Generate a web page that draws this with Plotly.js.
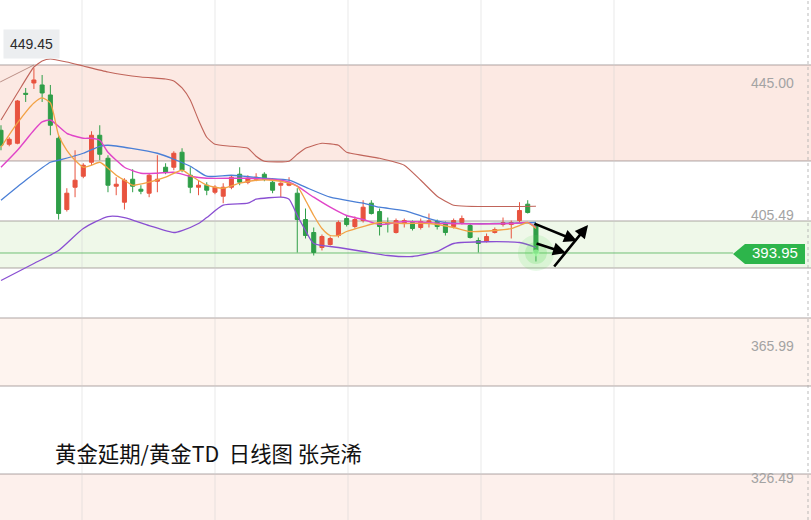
<!DOCTYPE html>
<html><head><meta charset="utf-8">
<script src="https://cdn.plot.ly/plotly-3.0.1.min.js"></script>
<style>html,body{margin:0;padding:0;background:#fff}#chart{width:811px;height:520px}</style>
</head><body><div id="chart"></div>
<script>
// ---- candle data (daily) ----
const openP  = [430.8,426.6,426.9,441.9,445.0,444.4,441.4,428.4,407.0,413.7,417.0,421.2,429.3,422.4,414.0,409.2,416.1,413.1,411.9,415.5,419.7,419.7,424.2,417.3,413.7,414.3,412.2,411.0,413.7,417.6,415.2,416.1,417.6,415.2,414.3,414.3,411.9,404.0,400.1,395.6,396.5,399.2,404.3,401.9,403.7,408.9,406.4,403.1,400.1,402.8,403.1,401.6,403.1,403.4,402.8,401.9,403.1,402.2,397.7,397.4,400.1,402.5,402.5,403.7,408.6,402.5];
const highP  = [432.3,428.7,439.9,443.5,449.45,447.4,444.4,429.0,413.4,424.8,420.9,430.5,432.3,423.3,416.7,416.4,419.1,414.3,417.9,423.3,420.9,424.5,425.4,419.7,415.8,415.2,414.3,414.9,417.3,419.7,417.3,417.9,418.2,416.4,415.2,416.7,413.4,407.3,401.6,399.5,398.9,403.7,405.2,404.9,409.8,409.8,407.3,404.6,404.3,404.3,403.7,404.3,405.8,404.0,403.4,404.3,405.2,402.8,398.6,399.8,401.6,404.6,403.7,409.2,409.8,402.5];
const lowP   = [424.8,426.0,426.6,439.3,443.2,439.3,429.3,404.0,406.4,410.7,416.4,420.3,421.8,412.2,411.3,407.0,412.2,411.6,410.7,412.2,417.6,418.8,418.2,411.9,411.3,411.3,411.6,408.9,413.1,414.3,414.6,415.5,415.5,411.9,410.7,414.0,394.1,398.3,393.2,394.7,396.2,398.6,401.9,401.3,403.1,405.5,399.2,400.1,399.8,401.6,400.7,401.0,401.6,401.0,399.2,401.3,402.5,398.3,394.1,397.1,399.8,401.9,398.3,403.1,405.8,391.4];
const closeP = [426.3,428.1,439.6,441.6,445.9,442.0,432.3,405.8,411.9,415.8,420.3,429.3,423.6,414.3,414.6,415.8,414.0,412.5,417.3,416.1,418.2,423.9,418.8,413.7,414.3,412.8,413.7,413.7,416.7,415.2,416.4,416.7,416.1,412.8,414.9,414.9,404.0,399.2,394.1,398.9,398.3,403.1,402.5,404.0,407.7,405.8,401.9,402.7,403.7,403.7,401.3,403.4,403.6,401.9,400.1,403.7,404.3,398.6,396.8,398.9,401.0,403.1,403.1,406.7,406.1,393.95];
const days = openP.map((_, i) => i);

// ---- indicator lines, read at sampled days ----
const upperDays = [0,2,4,5,6,8,10,13,17,20,21,22,23,24,25,26,28,30,31,32,35,36,37,39,41,42,46,49,51,53,55,65];
const upperBand = [433.9,442.0,449.8,451.6,452.2,451.3,450.1,448.3,446.8,446.2,445.6,443.5,439.9,433.9,428.7,426.6,426.0,425.4,423.0,421.5,421.5,423.6,425.4,426.9,426.3,424.2,422.4,420.3,415.8,411.0,408.3,408.0];
const midDays = [0,3,6,7,10,12,13,19,23,25,28,32,35,37,40,44,46,49,52,54,60,65];
const midBand = [409.8,415.8,421.2,421.8,423.9,426.0,426.3,423.9,420.0,417.0,417.3,416.4,415.8,413.7,410.7,408.9,407.7,406.7,404.3,403.1,402.8,403.1];
const lowDays = [0,4,7,10,13,15,18,21,22,24,25,27,30,31,34,35,36,37,38,41,44,47,50,53,55,63,65];
const lowBand = [385.7,390.8,394.7,401.3,404.9,404.6,402.2,400.1,400.7,402.8,404.6,408.3,408.9,410.1,410.7,410.1,405.2,400.7,396.8,395.6,394.4,393.2,392.9,394.4,396.8,397.1,395.6];
const ma5Days = [0,2,4,5,6,7,8,9,10,11,12,13,14,15,16,18,20,22,23,25,27,29,31,33,35,36,37,38,39,40,41,42,44,46,49,52,55,57,60,62,63,64,65];
const ma5 = [425.7,433.0,439.0,440.5,439.0,429.3,424.8,421.8,419.7,420.3,421.2,419.4,417.3,415.8,414.3,415.2,416.7,418.8,417.3,414.3,413.4,414.9,415.8,415.8,414.9,414.0,409.8,405.2,401.3,399.2,399.2,400.4,401.9,403.1,402.8,402.8,401.6,400.4,400.7,401.3,402.2,403.1,401.3];
const ma10Days = [0,2,4,5,6,8,10,11,12,13,14,15,17,19,21,23,25,30,34,35,36,38,40,42,44,46,49,54,62,64,65];
const ma10 = [419.7,424.8,430.8,433.3,433.9,429.9,428.4,428.4,427.8,424.2,421.8,419.7,417.9,417.9,418.2,417.0,416.4,416.4,415.8,415.2,414.0,410.7,407.7,405.2,404.0,402.5,403.4,402.8,402.8,403.1,401.6];
const trendDays = [-0.1, 4];
const trendLine = [445.3, 450.4];

// ---- levels / labels ----
const zoneLow  = [421.58, 389.44, 354.01, 300.0];
const zoneHigh = [450.41, 403.56, 374.43, 327.58];
const zoneColors = ['rgba(251,224,215,0.7)', 'rgba(228,243,218,0.6)', 'rgba(253,237,228,0.6)', 'rgba(252,232,226,0.65)'];
const levelLines = [450.41, 421.58, 403.56, 389.44, 374.43, 354.01, 327.58];
const axisLabels = [445.00, 405.49, 365.99, 326.49];
const lastPrice = 393.95;
const highLabel = '449.45';
const arrowTail = [[64.64, 402.96], [64.89, 396.95], [67.07, 389.44]];
const arrowHead = [[69.99, 397.55], [68.65, 393.95], [71.33, 402.36]];
const titleText = '黄金延期/黄金TD  日线图 张尧浠';

const RED = '#e8533f', GREEN = '#2f9e48';
const sm = {shape: 'spline', smoothing: 0.6};
const traces = [
  {type:'scatter', mode:'lines', x: trendDays, y: trendLine, line:{color:'rgba(170,120,110,0.8)', width:1}, hoverinfo:'skip'},
  {type:'scatter', mode:'lines', x: upperDays, y: upperBand, line:{color:'#c0645a', width:1.1, shape:'spline', smoothing:0.45}, hoverinfo:'skip'},
  {type:'scatter', mode:'lines', x: midDays, y: midBand, line:Object.assign({color:'#4a7fd6', width:1.3}, sm), hoverinfo:'skip'},
  {type:'scatter', mode:'lines', x: lowDays, y: lowBand, line:Object.assign({color:'#8a4fd2', width:1.3}, sm), hoverinfo:'skip'},
  {type:'scatter', mode:'lines', x: ma10Days, y: ma10, line:Object.assign({color:'#e045c8', width:1.4}, sm), hoverinfo:'skip'},
  {type:'scatter', mode:'lines', x: ma5Days, y: ma5, line:Object.assign({color:'#f2a245', width:1.3}, sm), hoverinfo:'skip'},
  {type:'candlestick', x: days, open: openP, high: highP, low: lowP, close: closeP,
   increasing:{line:{color:RED, width:1}, fillcolor:RED},
   decreasing:{line:{color:GREEN, width:1}, fillcolor:GREEN}, whiskerwidth:0, hoverinfo:'skip'},
  {type:'scatter', mode:'markers', x:[days[days.length-1], days[days.length-1], days[days.length-1]],
   y:[lastPrice, lastPrice, lastPrice],
   marker:{size:[36, 22, 7], color:['rgba(90,220,90,0.2)','rgba(90,220,90,0.32)','rgba(170,255,170,0.95)'], line:{width:0}}, hoverinfo:'skip'}
];

const shapes = [];
zoneLow.forEach((lo, k) => shapes.push({type:'rect', xref:'paper', x0:0, x1:1, yref:'y', y0:lo, y1:zoneHigh[k], fillcolor:zoneColors[k], line:{width:0}, layer:'below'}));
levelLines.forEach(v => shapes.push({type:'line', xref:'paper', x0:0, x1:1, yref:'y', y0:v, y1:v, line:{color:'rgba(120,108,108,0.6)', width:1}, layer:'below'}));
[82, 215, 348, 481, 614].forEach(px => shapes.push({type:'line', xref:'paper', x0:px/811, x1:px/811, yref:'paper', y0:0, y1:1, line:{color:'rgba(205,205,205,0.45)', width:1}, layer:'below'}));
shapes.push({type:'line', xref:'paper', x0:808/811, x1:808/811, yref:'paper', y0:0, y1:1, line:{color:'rgba(170,170,170,0.8)', width:1, dash:'dot'}, layer:'below'});
shapes.push({type:'line', xref:'paper', x0:0, x1:733/811, yref:'y', y0:lastPrice, y1:lastPrice, line:{color:'rgba(60,170,70,0.7)', width:1}, layer:'below'});
// price tag
shapes.push({type:'path', xref:'paper', yref:'paper',
  path:'M 0.9038 0.5115 L 0.9186 0.5308 L 0.9926 0.5308 L 0.9926 0.4923 L 0.9186 0.4923 Z',
  fillcolor:'#2db54b', line:{width:0}});

const annotations = [];
axisLabels.forEach(v => annotations.push({xref:'paper', x:0.982, xanchor:'right', yref:'y', y:v, yanchor:'middle', text:v.toFixed(2), showarrow:false, font:{family:'Liberation Sans, Arial', size:14, color:'#a3a3a3'}}));
annotations.push({xref:'paper', x:0.9556, xanchor:'center', yref:'y', y:lastPrice, yanchor:'middle', text:lastPrice.toFixed(2), showarrow:false, font:{family:'Liberation Sans, Arial', size:15, color:'#ffffff'}});
annotations.push({xref:'paper', x:3/811, xanchor:'left', yref:'paper', y:1-44/520, yanchor:'middle', text:highLabel, showarrow:false, bgcolor:'#eceef0', borderpad:6, font:{family:'Liberation Sans, Arial', size:14, color:'#2a2a2a'}});
annotations.push({xref:'paper', x:53/811, xanchor:'left', yref:'paper', y:1-452/520, yanchor:'middle', text:titleText, showarrow:false, font:{family:'Noto Sans CJK SC', size:21.4, color:'#111'}});
arrowHead.forEach((h, k) => annotations.push({x:h[0], y:h[1], xref:'x', yref:'y', ax:arrowTail[k][0], ay:arrowTail[k][1], axref:'x', ayref:'y', text:'', showarrow:true, arrowhead:2, arrowsize:1, arrowwidth:2.6, arrowcolor:'#000'}));

const layout = {
  width:811, height:520, margin:{l:0, r:0, t:0, b:0},
  paper_bgcolor:'#ffffff', plot_bgcolor:'#ffffff', showlegend:false,
  xaxis:{range:[-0.12, 98.42], visible:false, rangeslider:{visible:false}, fixedrange:true},
  yaxis:{range:[313.77, 469.92], visible:false, fixedrange:true},
  shapes: shapes, annotations: annotations
};
Plotly.newPlot('chart', traces, layout, {displayModeBar:false, staticPlot:true});
</script></body></html>
